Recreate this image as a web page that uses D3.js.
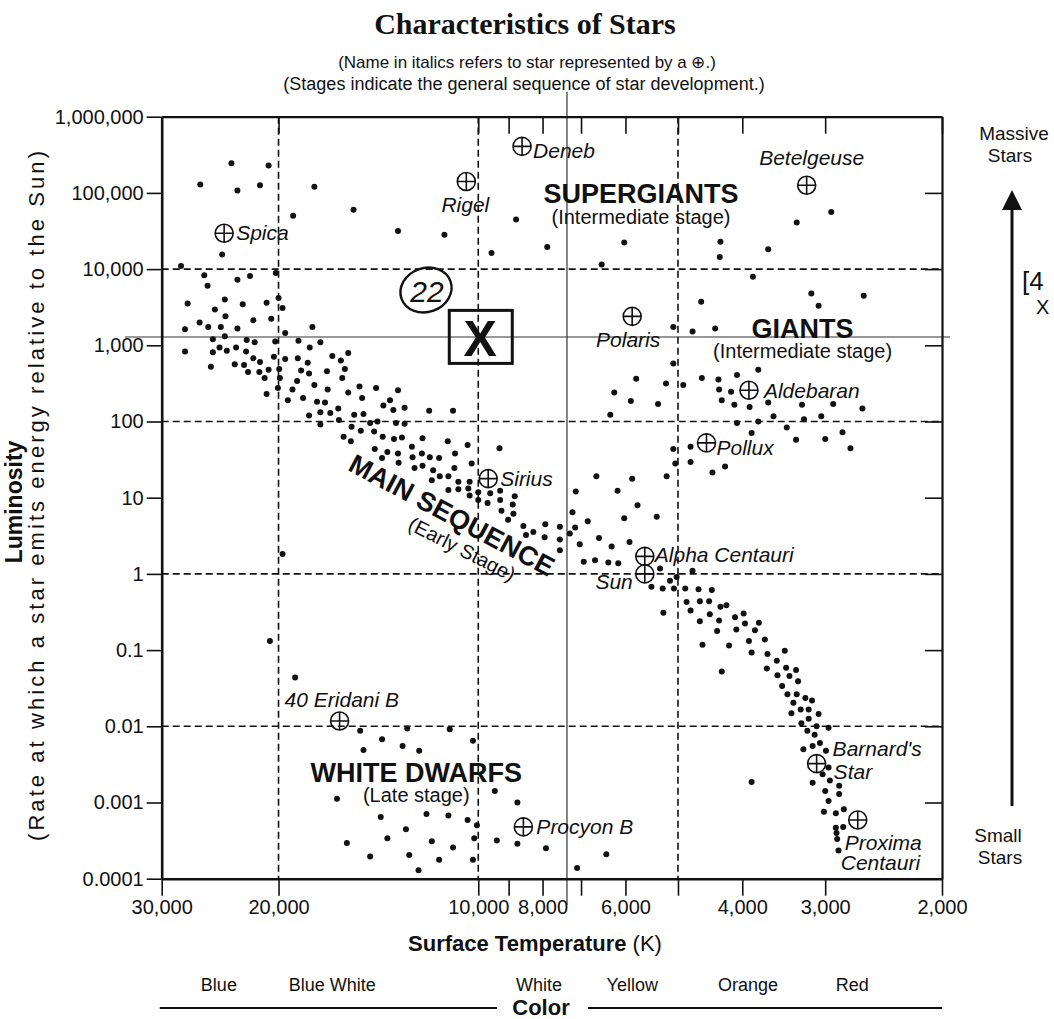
<!DOCTYPE html>
<html>
<head>
<meta charset="utf-8">
<script src="https://cdn.jsdelivr.net/npm/d3@7"></script>
<style>
  body { margin: 0; background: #fff; }
</style>
</head>
<body>
<script>
// ---- data (temperatures in K, luminosity relative to the Sun, stars as [log10 T, log10 L]) ----
var tempTicks = [30000, 20000, 10000, 9000, 8000, 7000, 6000, 5000, 4000, 3000, 2000];
var tempTickLabels = ["30,000", "20,000", "10,000", "", "8,000", "", "6,000", "", "4,000", "3,000", "2,000"];
var lumTicks = [1e6, 1e5, 1e4, 1e3, 100, 10, 1, 0.1, 0.01, 0.001, 0.0001];
var lumTickLabels = ["1,000,000", "100,000", "10,000", "1,000", "100", "10", "1", "0.1", "0.01", "0.001", "0.0001"];
var gridTemps = [20000, 10000, 5000];
var gridLums = [1e4, 100, 1, 0.01];

var colorNames = ["Blue", "Blue White", "White", "Yellow", "Orange", "Red"];
var colorTemps = [24600, 16600, 8100, 5860, 3920, 2730];

var supergiants = [
  [4.372,5.39],[4.316,5.36],[4.419,5.11],[4.363,5.03],[4.329,5.10],[4.247,5.08],[4.279,4.70],
  [4.188,4.78],[4.121,4.50],[4.051,4.45],[3.980,4.21],[3.943,4.65],[3.896,4.29],[3.780,4.35],
  [3.814,4.06],[3.468,4.75],[3.520,4.61],[3.635,4.36],[3.636,4.16],[3.563,4.26],[4.386,4.19],[4.448,4.04]
];

var giants = [
  [3.586,3.90],[3.664,3.57],[3.498,3.68],[3.487,3.52],[3.419,3.65],[3.706,3.24],[3.677,3.18],
  [3.643,3.22],[3.762,2.56],[3.795,2.38],[3.717,2.50],[3.770,2.27],[3.729,2.23],[3.801,2.09],
  [3.706,2.76],[3.691,2.48],[3.663,2.57],[3.638,2.55],[3.610,2.61],[3.578,2.68],[3.637,2.42],
  [3.619,2.39],[3.633,2.28],[3.614,2.22],[3.591,2.19],[3.563,2.25],[3.512,2.22],[3.465,2.23],
  [3.421,2.17],[3.555,2.07],[3.509,2.03],[3.483,2.07],[3.610,1.98],[3.578,2.00],[3.535,1.92],
  [3.588,1.85],[3.451,1.86],[3.521,1.76],[3.477,1.77],[3.439,1.65],[3.680,1.67],[3.706,1.64],
  [3.703,1.45],[3.680,1.47],[3.716,1.28],[3.628,1.41],[3.647,1.33]
];

var mainSequence = [
  [4.305,3.95],[4.413,3.92],[4.344,3.91],[4.408,3.78],[4.363,3.86],[4.438,3.55],[4.382,3.60],
  [4.397,3.47],[4.355,3.54],[4.319,3.56],[4.301,3.62],[4.295,3.49],[4.381,3.38],[4.420,3.30],
  [4.407,3.24],[4.442,3.21],[4.388,3.24],[4.363,3.22],[4.339,3.33],[4.312,3.35],[4.250,3.24],
  [4.291,3.16],[4.400,3.08],[4.382,3.12],[4.349,3.07],[4.337,3.04],[4.306,3.05],[4.271,3.06],
  [4.238,3.04],[4.254,2.97],[4.442,2.92],[4.400,2.91],[4.390,2.97],[4.379,2.93],[4.365,2.97],
  [4.350,2.92],[4.339,2.83],[4.308,2.85],[4.291,2.82],[4.272,2.83],[4.220,2.86],[4.196,2.90],
  [4.403,2.72],[4.367,2.75],[4.353,2.74],[4.329,2.78],[4.257,2.77],[4.207,2.80],[4.347,2.65],
  [4.330,2.65],[4.316,2.68],[4.300,2.69],[4.267,2.67],[4.255,2.63],[4.228,2.66],[4.201,2.69],
  [4.322,2.57],[4.299,2.57],[4.273,2.53],[4.247,2.48],[4.205,2.57],[4.319,2.36],[4.302,2.44],
  [4.280,2.42],[4.227,2.42],[4.196,2.38],[4.179,2.46],[4.154,2.44],[4.121,2.41],[4.287,2.28],
  [4.264,2.31],[4.243,2.26],[4.231,2.25],[4.175,2.31],[4.143,2.21],[4.133,2.28],[4.128,2.15],
  [4.211,2.17],[4.255,2.08],[4.238,2.12],[4.223,2.11],[4.187,2.09],[4.173,2.10],[4.238,1.96],
  [4.210,2.02],[4.191,1.93],[4.177,1.88],[4.163,1.98],[4.152,2.00],[4.124,1.98],[4.157,1.87],
  [4.144,1.80],[4.127,1.77],[4.203,1.80],[4.192,1.74],[4.156,1.64],[4.137,1.60],[4.145,1.52],
  [4.121,1.58],[4.111,2.18],[4.074,2.14],[4.038,2.14],[4.111,1.97],[4.115,1.79],[4.084,1.78],
  [4.100,1.67],[4.046,1.74],[4.016,1.69],[3.968,1.65],[4.099,1.53],[4.085,1.58],[4.073,1.53],
  [4.059,1.52],[4.035,1.58],[4.120,1.46],[4.096,1.39],[4.084,1.42],[4.068,1.36],[4.036,1.39],
  [4.010,1.45],[4.070,1.23],[4.058,1.28],[4.045,1.28],[4.030,1.21],[4.013,1.21],[4.045,1.10],
  [4.030,1.11],[4.015,1.12],[4.013,1.03],[4.000,1.07],[3.982,1.06],[3.967,1.09],[3.945,1.02],
  [4.000,0.97],[3.986,0.93],[3.967,0.97],[3.948,0.91],[3.965,0.83],[3.947,0.79],[3.955,0.71],
  [3.932,0.63],[3.917,0.55],[3.928,0.51],[3.899,0.65],[3.900,0.48],[3.877,0.62],[3.877,0.45],
  [3.877,0.31],[3.862,0.53],[3.854,0.61],[3.858,0.81],[3.835,0.69],[3.853,1.08],[3.822,1.28],
  [3.790,1.09],[3.768,1.25],[3.760,0.90],[3.780,0.73],[3.731,0.75],[3.847,0.39],[3.818,0.47],
  [3.799,0.36],[3.772,0.42],[3.841,0.16],[3.824,0.18],[3.804,0.15],[3.789,0.14],[3.726,0.07],
  [3.739,-0.17],[3.722,-0.19],[3.711,-0.09],[3.701,-0.04],[3.705,-0.19],[3.677,0.04],[3.688,-0.19],
  [3.668,-0.20],[3.648,-0.21],[3.721,-0.51],[3.686,-0.37],[3.666,-0.36],[3.652,-0.36],[3.635,-0.43],
  [3.626,-0.41],[3.680,-0.48],[3.651,-0.53],[3.613,-0.57],[3.600,-0.52],[3.666,-0.62],[3.637,-0.61],
  [3.598,-0.65],[3.577,-0.64],[3.640,-0.75],[3.611,-0.73],[3.583,-0.74],[3.662,-0.93],[3.622,-0.94],
  [3.592,-0.88],[3.568,-0.86],[3.588,-1.03],[3.564,-1.05],[3.538,-1.01],[3.550,-1.14],[3.565,-1.24],
  [3.536,-1.23],[3.521,-1.26],[3.633,-1.28],[3.549,-1.33],[3.531,-1.34],[3.518,-1.41],[3.542,-1.47],
  [3.534,-1.58],[3.520,-1.58],[3.507,-1.63],[3.497,-1.66],[3.525,-1.69],[3.514,-1.78],[3.502,-1.78],
  [3.487,-1.84],[3.528,-1.83],[3.502,-1.90],[3.513,-1.96],[3.490,-2.00],[3.472,-2.02],[3.504,-2.06],
  [3.493,-2.11],[3.485,-2.22],[3.496,-2.26],[3.510,-2.30],[3.476,-2.32],[3.472,-2.54],[3.481,-2.63],
  [3.470,-2.71],[3.496,-2.74],[3.456,-2.78],[3.477,-2.85],[3.456,-2.89],[3.472,-2.98],[3.479,-3.12],
  [3.461,-3.14],[3.449,-3.09],[3.461,-3.33],[3.450,-3.32],[3.460,-3.40],[3.459,-3.48],[3.457,-3.63],
  [3.588,-2.73],[4.295,0.26]
];

var whiteDwarfs = [
  [4.314,-0.88],[4.276,-1.36],[4.178,-2.06],[4.145,-2.17],[4.173,-2.31],[4.213,-2.95],[4.147,-3.19],
  [4.198,-3.53],[4.137,-3.47],[4.163,-3.71],[4.107,-2.03],[4.043,-2.04],[4.114,-2.26],[4.089,-2.32],
  [4.008,-2.19],[3.975,-2.85],[3.941,-3.00],[4.078,-3.15],[4.045,-3.17],[4.016,-3.23],[4.002,-3.30],
  [4.109,-3.35],[4.070,-3.51],[4.038,-3.59],[4.006,-3.47],[3.972,-3.50],[3.941,-3.54],[3.898,-3.60],
  [4.104,-3.69],[4.059,-3.75],[4.008,-3.75],[4.090,-3.89],[3.851,-3.86],[3.807,-3.68]
];

var namedStars = ["Spica", "Rigel", "Deneb", "Betelgeuse", "Polaris", "Aldebaran", "Pollux", "Sirius",
  "Alpha Centauri", "Sun", "40 Eridani B", "Procyon B", "Barnard's Star", "Proxima Centauri"];
var namedLogT = [4.383, 4.018, 3.934, 3.505, 3.768, 3.592, 3.656, 3.985, 3.749, 3.749, 4.209, 3.932, 3.490, 3.428];
var namedLogL = [4.47, 5.15, 5.61, 5.10, 3.38, 2.41, 1.72, 1.25, 0.23, 0.00, -1.93, -3.32, -2.49, -3.23];

// label placement next to each symbol (px offsets)
var labelPlace = [
  [["Spica", 12, 7, "start"]],
  [["Rigel", -1, 31, "middle"]],
  [["Deneb", 11, 12, "start"]],
  [["Betelgeuse", 5, -20, "middle"]],
  [["Polaris", -4, 31, "middle"]],
  [["Aldebaran", 15, 8, "start"]],
  [["Pollux", 10, 12, "start"]],
  [["Sirius", 12, 7, "start"]],
  [["Alpha Centauri", 10, 6, "start"]],
  [["Sun", -12, 15, "end"]],
  [["40 Eridani B", -55, -14, "start"]],
  [["Procyon B", 13, 7, "start"]],
  [["Barnard's", 16, -8, "start"], ["Star", 17, 15, "start"]],
  [["Proxima", -13, 30, "start"], ["Centauri", -17, 50, "start"]]
];

// ---- chart ----
var W = 1054, H = 1019;
var FONT = "'Liberation Sans', Arial, Helvetica, sans-serif";
var INK = "#111";

var svg = d3.select("body").append("svg")
  .attr("width", W).attr("height", H)
  .style("font-family", FONT);

var x = d3.scaleLog().domain([30000, 2000]).range([161.7, 942]);
var y = d3.scaleLog().domain([1e6, 1e-4]).range([116.7, 878.7]);

function px(d) { return x(Math.pow(10, d[0])); }
function py(d) { return y(Math.pow(10, d[1])); }

// titles
svg.append("text").attr("x", 525).attr("y", 34).attr("text-anchor", "middle")
  .style("font-family", "'Liberation Serif', 'Times New Roman', serif")
  .style("font-weight", "bold").style("font-size", "30px").attr("fill", INK)
  .text("Characteristics of Stars");
svg.append("text").attr("x", 527).attr("y", 68).attr("text-anchor", "middle")
  .style("font-size", "17px").attr("fill", INK)
  .text("(Name in italics refers to star represented by a \u2295.)");
svg.append("text").attr("x", 524).attr("y", 90).attr("text-anchor", "middle")
  .style("font-size", "18px").attr("fill", INK)
  .text("(Stages indicate the general sequence of star development.)");

// grid
svg.selectAll(".vgrid").data(gridTemps).enter().append("line")
  .attr("x1", function(d) { return x(d); }).attr("x2", function(d) { return x(d); })
  .attr("y1", y(1e6)).attr("y2", y(1e-4))
  .attr("stroke", INK).attr("stroke-width", 1.6).attr("stroke-dasharray", "7,4");
svg.selectAll(".hgrid").data(gridLums).enter().append("line")
  .attr("y1", function(d) { return y(d); }).attr("y2", function(d) { return y(d); })
  .attr("x1", x(30000)).attr("x2", x(2000))
  .attr("stroke", INK).attr("stroke-width", 1.6).attr("stroke-dasharray", "7,4");

// pen marks on the sheet
svg.append("line").attr("x1", 125).attr("x2", 950).attr("y1", y(1285)).attr("y2", y(1285))
  .attr("stroke", "#333").attr("stroke-width", 1.2);
svg.append("line").attr("x1", x(7350)).attr("x2", x(7350)).attr("y1", 92).attr("y2", 905)
  .attr("stroke", "#333").attr("stroke-width", 1.2);

// axes
function styleAxis(g, w) {
  g.select(".domain").attr("stroke", INK).attr("stroke-width", w);
  g.selectAll(".tick line").attr("stroke", INK).attr("stroke-width", 1.6);
  g.selectAll(".tick text").attr("fill", INK).style("font-size", "20px").style("font-family", FONT);
}
svg.append("g").attr("transform", "translate(0," + y(1e-4) + ")")
  .call(d3.axisBottom(x).tickValues(tempTicks)
    .tickFormat(function(d, i) { return tempTickLabels[i]; })
    .tickSize(17).tickSizeOuter(0).tickPadding(4))
  .call(styleAxis, 2.6);
svg.append("g").attr("transform", "translate(0," + y(1e6) + ")")
  .call(d3.axisTop(x).tickValues(tempTicks).tickFormat("").tickSize(-17).tickSizeOuter(0))
  .call(styleAxis, 2.2);
svg.append("g").attr("transform", "translate(" + x(30000) + ",0)")
  .call(d3.axisLeft(y).tickValues(lumTicks)
    .tickFormat(function(d, i) { return lumTickLabels[i]; })
    .tickSize(15).tickSizeOuter(0).tickPadding(3))
  .call(styleAxis, 2.6);
svg.append("g").attr("transform", "translate(" + x(2000) + ",0)")
  .call(d3.axisRight(y).tickValues(lumTicks).tickFormat("").tickSize(-17).tickSizeOuter(0))
  .call(styleAxis, 2.2);

// stars
var allDots = supergiants.concat(giants, mainSequence, whiteDwarfs);
svg.append("g").selectAll("circle").data(allDots).enter().append("circle")
  .attr("cx", px).attr("cy", py).attr("r", 3).attr("fill", INK);

// named stars
var named = svg.append("g").selectAll("g").data(namedStars).enter().append("g")
  .attr("transform", function(d, i) {
    return "translate(" + x(Math.pow(10, namedLogT[i])) + "," + y(Math.pow(10, namedLogL[i])) + ")";
  });
named.append("circle").attr("r", 9).attr("fill", "none").attr("stroke", INK).attr("stroke-width", 1.6);
named.append("path").attr("d", "M-9,0H9M0,-9V9").attr("stroke", INK).attr("stroke-width", 1.6);
named.each(function(d, i) {
  var g = d3.select(this);
  labelPlace[i].forEach(function(l) {
    g.append("text").attr("x", l[1]).attr("y", l[2]).attr("text-anchor", l[3])
      .style("font-style", "italic").style("font-size", "21px").attr("fill", INK).text(l[0]);
  });
});

// region labels
function region(t, T, L, size, bold, rot) {
  var tx = svg.append("text")
    .attr("transform", "translate(" + x(T) + "," + y(L) + ")" + (rot ? " rotate(" + rot + ")" : ""))
    .attr("text-anchor", "middle").style("font-size", size + "px").attr("fill", INK).text(t);
  if (bold) tx.style("font-weight", "bold");
  if (rot) tx.attr("dy", "0.35em");
  return tx;
}
region("SUPERGIANTS", 5685, Math.pow(10, 4.864), 27, true);
region("(Intermediate stage)", 5685, Math.pow(10, 4.592), 20, false);
region("GIANTS", 3245, Math.pow(10, 3.092), 27, true);
region("(Intermediate stage)", 3245, Math.pow(10, 2.83), 20, false);
region("WHITE DWARFS", 12400, Math.pow(10, -2.727), 27, true);
region("(Late stage)", 12400, Math.pow(10, -2.99), 20, false);
region("MAIN SEQUENCE", 10960, Math.pow(10, 0.773), 27, true, 28);
region("(Early Stage)", 10580, Math.pow(10, 0.327), 20, false, 27);

// handwritten marks
var boxT = 9930, boxL = 1270;
svg.append("rect").attr("x", x(boxT) - 31).attr("y", y(boxL) - 27).attr("width", 63).attr("height", 53)
  .attr("fill", "none").attr("stroke", INK).attr("stroke-width", 3);
svg.append("text").attr("x", x(boxT)).attr("y", y(boxL) + 19).attr("text-anchor", "middle")
  .style("font-weight", "bold").style("font-size", "50px").attr("fill", INK).text("X");
svg.append("ellipse").attr("cx", 426).attr("cy", 290).attr("rx", 26).attr("ry", 22)
  .attr("transform", "rotate(-20,426,290)")
  .attr("fill", "none").attr("stroke", INK).attr("stroke-width", 2.4);
svg.append("text").attr("x", 427).attr("y", 302).attr("text-anchor", "middle")
  .style("font-style", "italic").style("font-size", "30px").attr("fill", INK).text("22");
svg.append("text").attr("x", 1022).attr("y", 290).style("font-size", "26px").attr("fill", INK).text("[4");
svg.append("text").attr("x", 1036).attr("y", 314).style("font-size", "20px").attr("fill", INK).text("X");

// y axis title
svg.append("text").attr("transform", "translate(22,502) rotate(-90)").attr("text-anchor", "middle")
  .style("font-weight", "bold").style("font-size", "23px").attr("fill", INK).text("Luminosity");
svg.append("text").attr("transform", "translate(44,496) rotate(-90)").attr("text-anchor", "middle")
  .attr("textLength", 690).attr("lengthAdjust", "spacing")
  .style("font-size", "22px").attr("fill", INK)
  .text("(Rate at which a star emits energy relative to the Sun)");

// x axis title
var xt = svg.append("text").attr("x", 535).attr("y", 951).attr("text-anchor", "middle")
  .style("font-size", "22px").attr("fill", INK);
xt.append("tspan").style("font-weight", "bold").text("Surface Temperature");
xt.append("tspan").text(" (K)");

// color row
svg.selectAll(".cname").data(colorNames).enter().append("text")
  .attr("x", function(d, i) { return x(colorTemps[i]); }).attr("y", 991)
  .attr("text-anchor", "middle").style("font-size", "18px").attr("fill", INK)
  .text(function(d) { return d; });
svg.append("text").attr("x", 541).attr("y", 1015).attr("text-anchor", "middle")
  .style("font-weight", "bold").style("font-size", "22px").attr("fill", INK).text("Color");
svg.append("line").attr("x1", x(30000) - 2).attr("x2", 497).attr("y1", 1008).attr("y2", 1008)
  .attr("stroke", INK).attr("stroke-width", 1.8);
svg.append("line").attr("x1", 588).attr("x2", x(2000)).attr("y1", 1008).attr("y2", 1008)
  .attr("stroke", INK).attr("stroke-width", 1.8);

// mass arrow
var ax = 1012;
svg.append("line").attr("x1", ax).attr("x2", ax).attr("y1", 806).attr("y2", 205)
  .attr("stroke", INK).attr("stroke-width", 3);
svg.append("path").attr("d", "M" + (ax - 10) + ",210L" + ax + ",190L" + (ax + 10) + ",210Z").attr("fill", INK);
[["Massive", 1014, 140], ["Stars", 1010, 162], ["Small", 998, 842], ["Stars", 1000, 864]].forEach(function(t) {
  svg.append("text").attr("x", t[1]).attr("y", t[2]).attr("text-anchor", "middle")
    .style("font-size", "19px").attr("fill", INK).text(t[0]);
});
</script>
</body>
</html>
